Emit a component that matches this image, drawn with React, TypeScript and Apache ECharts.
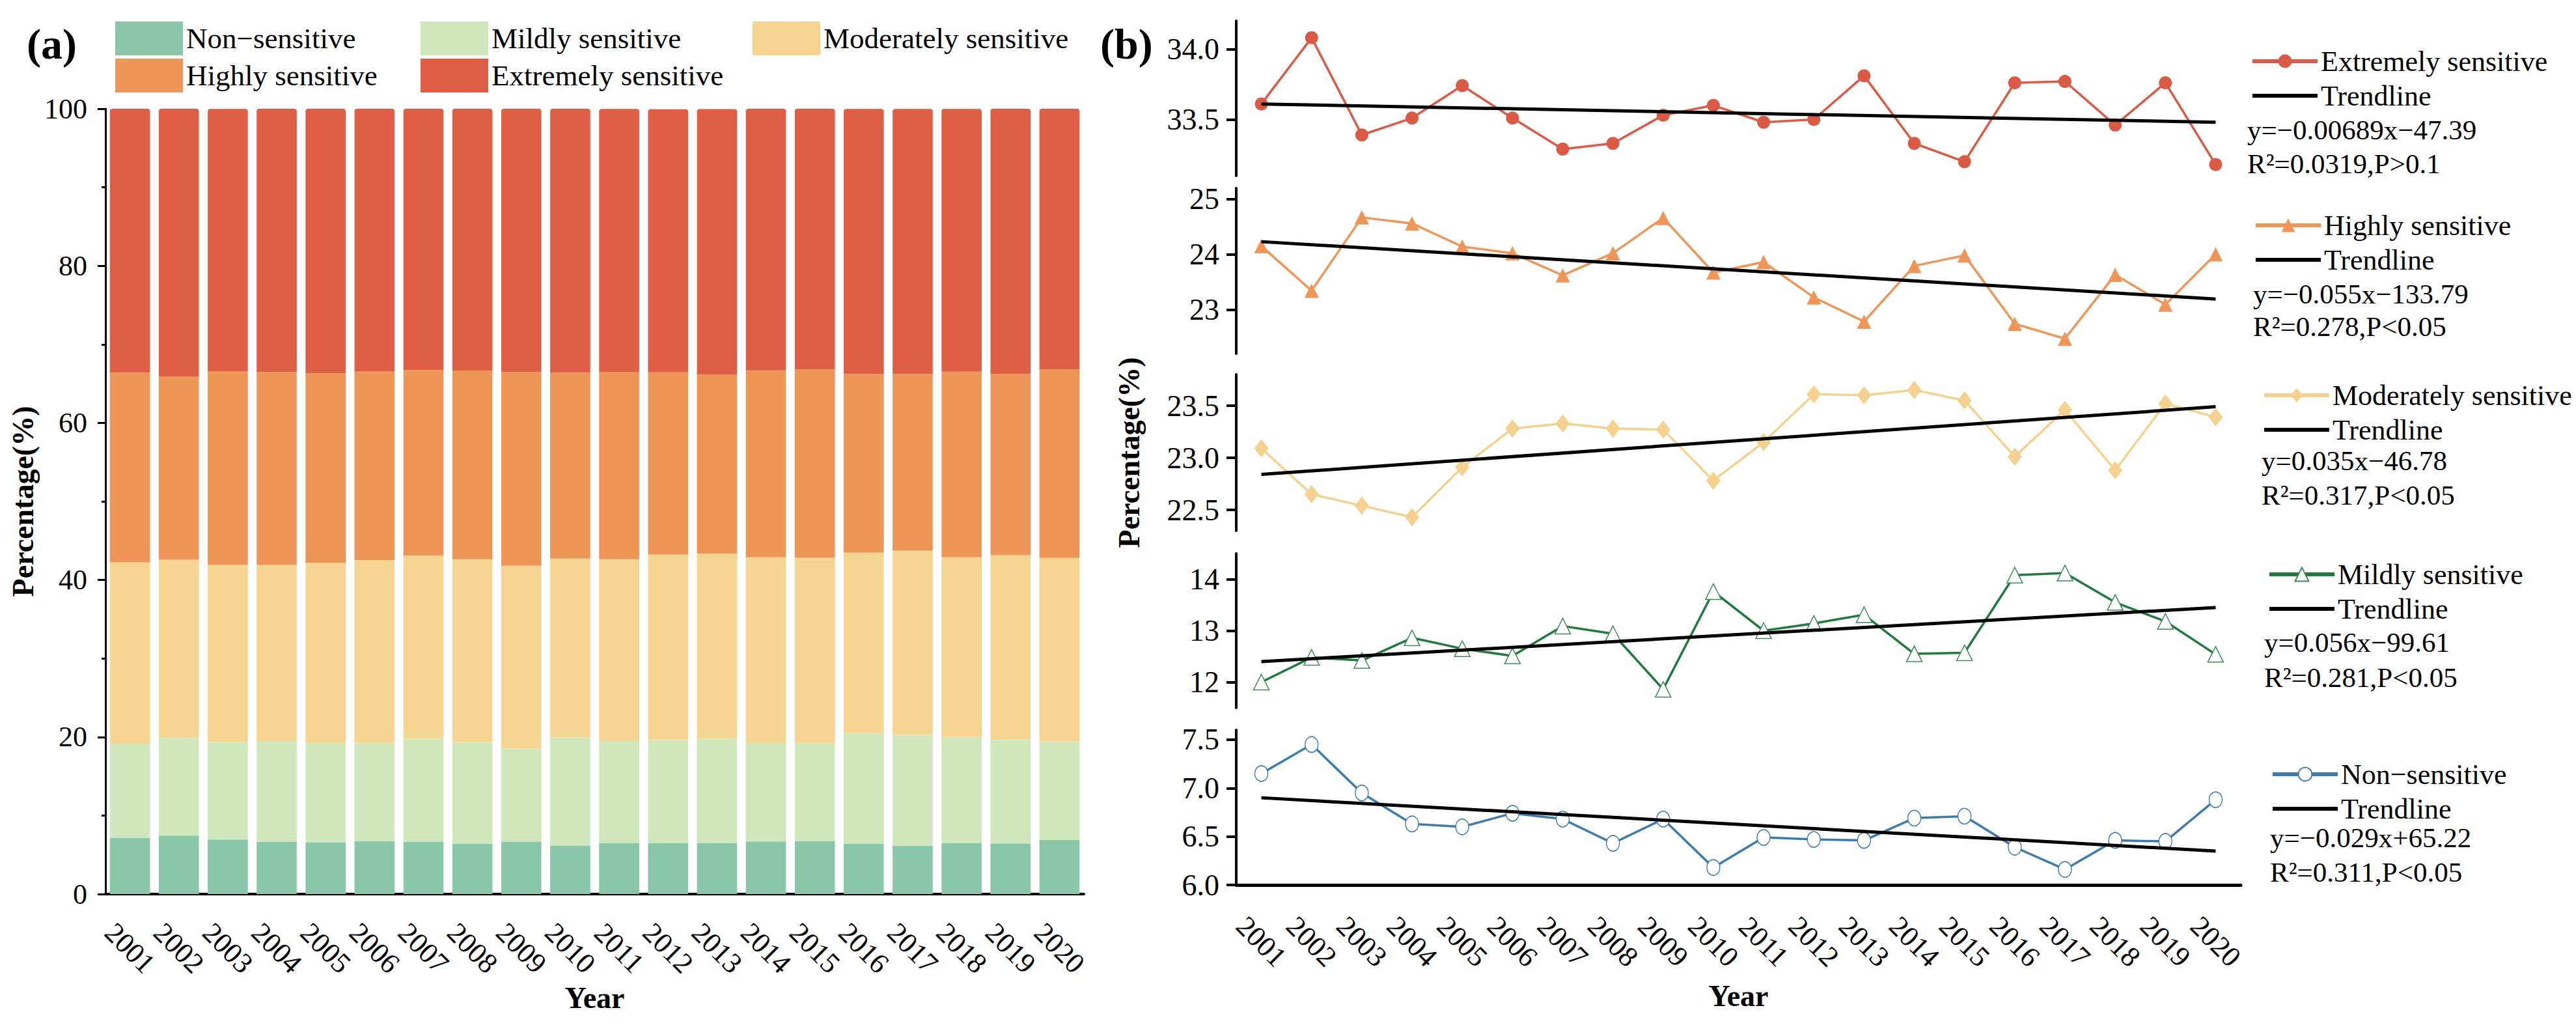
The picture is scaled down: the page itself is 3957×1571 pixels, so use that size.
import React, { useEffect, useRef } from 'react';
import * as echarts from 'echarts';

// ---------------- data ----------------
const years = ['2001', '2002', '2003', '2004', '2005', '2006', '2007', '2008', '2009', '2010',
  '2011', '2012', '2013', '2014', '2015', '2016', '2017', '2018', '2019', '2020'];

const nonSensitive = [7.15, 7.45, 6.95, 6.63, 6.60, 6.74, 6.68, 6.43, 6.68, 6.18, 6.49, 6.47, 6.46, 6.69, 6.71, 6.39, 6.16, 6.46, 6.45, 6.88];
const mildlySensitive = [12.00, 12.48, 12.42, 12.86, 12.65, 12.51, 13.09, 12.94, 11.86, 13.76, 13.00, 13.14, 13.31, 12.55, 12.57, 14.08, 14.12, 13.55, 13.18, 12.54];
const moderatelySensitive = [23.09, 22.65, 22.54, 22.43, 22.91, 23.28, 23.33, 23.28, 23.27, 22.78, 23.15, 23.61, 23.60, 23.65, 23.55, 23.01, 23.46, 22.88, 23.52, 23.39];
const highlySensitive = [24.15, 23.34, 24.67, 24.56, 24.14, 24.02, 23.62, 24.02, 24.66, 23.67, 23.86, 23.22, 22.78, 23.79, 23.98, 22.74, 22.47, 23.63, 23.09, 24.00];
const extremelySensitive = [33.61, 34.08, 33.39, 33.51, 33.74, 33.51, 33.29, 33.33, 33.53, 33.60, 33.48, 33.50, 33.81, 33.33, 33.20, 33.76, 33.77, 33.46, 33.76, 33.18];

// trendline values at 2001 and 2020
const trendExtremely = [33.61, 33.48];
const trendHighly = [24.23, 23.19];
const trendModerately = [22.84, 23.49];
const trendMildly = [12.40, 13.45];
const trendNon = [6.90, 6.35];

const classNames = ['Non\u2212sensitive', 'Mildly sensitive', 'Moderately sensitive', 'Highly sensitive', 'Extremely sensitive'];

const equations = ['y=\u22120.00689x\u221247.39', 'y=\u22120.055x\u2212133.79', 'y=0.035x\u221246.78', 'y=0.056x\u221299.61', 'y=\u22120.029x+65.22'];
const r2Texts = ['R\u00b2=0.0319,P>0.1', 'R\u00b2=0.278,P<0.05', 'R\u00b2=0.317,P<0.05', 'R\u00b2=0.281,P<0.05', 'R\u00b2=0.311,P<0.05'];

// tick labels
const barTicks = [0, 20, 40, 60, 80, 100];
const ticksExtremely = [33.5, 34.0];
const ticksHighly = [23, 24, 25];
const ticksModerately = [22.5, 23.0, 23.5];
const ticksMildly = [12, 13, 14];
const ticksNon = [6.0, 6.5, 7.0, 7.5];

// ---------------- styles ----------------
const FONT = '"Liberation Serif", "Times New Roman", Times, serif';
const barColors = ['#8AC6AA', '#D0E6BB', '#F6D492', '#EE9558', '#DF5E46'];

export default function App() {
  const ref = useRef<HTMLDivElement>(null);

  useEffect(() => {
    document.body.style.margin = '0';
    if (!ref.current) return;
    const chart = echarts.init(ref.current, undefined, { renderer: 'svg' });

    const panels = [
      { name: classNames[4], data: extremelySensitive, trend: trendExtremely, ticks: ticksExtremely, dec: 1,
        min: 33.1, max: 34.2, top: 32, height: 238,
        color: '#DB5A46', symbol: 'circle', symbolSize: 20, fill: '#DB5A46', border: '#DB5A46', bw: 0,
        legendLeft: 3452, row1: 95, eqLeft: 3452, eqY: 199, r2Y: 251, eq: equations[0], r2: r2Texts[0] },
      { name: classNames[3], data: highlySensitive, trend: trendHighly, ticks: ticksHighly, dec: 0,
        min: 22.2, max: 25.2, top: 289, height: 254,
        color: '#EE9558', symbol: 'triangle', symbolSize: 22, fill: '#EE9558', border: '#EE9558', bw: 0,
        legendLeft: 3457, row1: 347, eqLeft: 3461, eqY: 451, r2Y: 501, eq: equations[1], r2: r2Texts[1] },
      { name: classNames[2], data: moderatelySensitive, trend: trendModerately, ticks: ticksModerately, dec: 1,
        min: 22.3, max: 23.8, top: 575, height: 240,
        color: '#F5D18F', symbol: 'diamond', symbolSize: [22, 28], fill: '#F5D18F', border: '#F5D18F', bw: 0,
        legendLeft: 3470, row1: 608, eqLeft: 3474, eqY: 707, r2Y: 760, eq: equations[2], r2: r2Texts[2] },
      { name: classNames[1], data: mildlySensitive, trend: trendMildly, ticks: ticksMildly, dec: 0,
        min: 11.5, max: 14.5, top: 850, height: 237,
        color: '#1F7A3C', symbol: 'triangle', symbolSize: 24, fill: '#FFFFFF', border: '#3E8A5A', bw: 1.5,
        legendLeft: 3478, row1: 883, eqLeft: 3478, eqY: 986, r2Y: 1040, eq: equations[3], r2: r2Texts[3] },
      { name: classNames[0], data: nonSensitive, trend: trendNon, ticks: ticksNon, dec: 1,
        min: 6.0, max: 7.6, top: 1121, height: 238,
        color: '#3C7BB0', symbol: 'circle', symbolSize: [20, 24], fill: '#FFFFFF', border: '#3C7BB0', bw: 1.5,
        legendLeft: 3483, row1: 1190, eqLeft: 3487, eqY: 1286, r2Y: 1339, eq: equations[4], r2: r2Texts[4] },
    ];

    const labelStyle = { fontFamily: FONT, color: '#000' };

    const grids: any[] = [{ left: 162, top: 167, width: 1503, height: 1206 }];
    const xAxes: any[] = [{
      type: 'category', gridIndex: 0, data: years,
      axisLine: { lineStyle: { color: '#000', width: 4 } },
      axisTick: { alignWithLabel: true, length: 14, lineStyle: { color: '#000', width: 2.5 } },
      axisLabel: { ...labelStyle, fontSize: 44, interval: 0, rotate: -45, align: 'center', verticalAlign: 'middle', margin: 83 },
      name: 'Year', nameLocation: 'middle', nameGap: 135,
      nameTextStyle: { ...labelStyle, fontSize: 46, fontWeight: 'bold' },
    }];
    const yAxes: any[] = [{
      type: 'value', gridIndex: 0, min: 0, max: 100, interval: 20,
      axisLine: { show: true, lineStyle: { color: '#000', width: 3 } },
      axisTick: { show: true, length: 12, lineStyle: { color: '#000', width: 3 }, customValues: barTicks },
      minorTick: { show: true, splitNumber: 2, length: 6, lineStyle: { color: '#000', width: 3 } },
      splitLine: { show: false },
      axisLabel: { ...labelStyle, fontSize: 44, margin: 28 },
      name: 'Percentage(%)', nameLocation: 'middle', nameGap: 104,
      nameTextStyle: { ...labelStyle, fontSize: 46, fontWeight: 'bold' },
    }];

    const lineSeries: any[] = [];
    const trendSeries: any[] = [];
    const legends: any[] = [];
    const graphics: any[] = [];

    panels.forEach((p, i) => {
      const gi = i + 1;
      grids.push({ left: 1899, width: 1543, top: p.top, height: p.height });
      const isBottom = i === panels.length - 1;
      xAxes.push(isBottom ? {
        type: 'category', gridIndex: gi, data: years,
        axisLine: { lineStyle: { color: '#000', width: 5 } },
        axisTick: { alignWithLabel: true, length: 14, lineStyle: { color: '#000', width: 3 } },
        axisLabel: { ...labelStyle, fontSize: 44, interval: 0, rotate: -45, align: 'center', verticalAlign: 'middle', margin: 87 },
        name: 'Year', nameLocation: 'middle', nameGap: 147,
        nameTextStyle: { ...labelStyle, fontSize: 46, fontWeight: 'bold' },
      } : { type: 'category', gridIndex: gi, data: years, show: false });
      yAxes.push({
        type: 'value', gridIndex: gi, min: p.min, max: p.max,
        axisLine: { show: true, lineStyle: { color: '#000', width: 4 } },
        axisTick: { show: true, length: 15, lineStyle: { color: '#000', width: 4 }, customValues: p.ticks },
        axisLabel: { ...labelStyle, fontSize: 46, margin: 26, customValues: p.ticks,
          formatter: (v: number) => v.toFixed(p.dec) },
        splitLine: { show: false },
        ...(i === 2 ? {
          name: 'Percentage(%)', nameLocation: 'middle', nameGap: 142,
          nameTextStyle: { ...labelStyle, fontSize: 46, fontWeight: 'bold' },
        } : {}),
      });
      lineSeries.push({
        type: 'line', name: p.name, xAxisIndex: gi, yAxisIndex: gi, data: p.data,
        symbol: p.symbol, symbolSize: p.symbolSize, showAllSymbol: true,
        lineStyle: { color: p.color, width: 3.5 },
        itemStyle: { color: p.fill, borderColor: p.border, borderWidth: p.bw },
        z: 3,
      });
      trendSeries.push({
        type: 'line', name: 'Trendline', xAxisIndex: gi, yAxisIndex: gi,
        data: [[0, p.trend[0]], [years.length - 1, p.trend[1]]],
        symbol: 'none', lineStyle: { color: '#000', width: 5 }, z: 4,
      });
      legends.push({
        orient: 'vertical', left: p.legendLeft, top: p.row1 - 28,
        itemWidth: 100, itemHeight: 26, itemGap: 9, selectedMode: false,
        lineStyle: { width: 6 },
        textStyle: { ...labelStyle, fontSize: 44, lineHeight: 44 },
        data: [
          { name: p.name },
          { name: 'Trendline', itemStyle: { color: 'rgba(0,0,0,0)', borderColor: 'rgba(0,0,0,0)', borderWidth: 0 } },
        ],
      });
      [[p.eq, p.eqY], [p.r2, p.r2Y]].forEach(([t, y]) => {
        graphics.push({
          type: 'text', x: p.eqLeft, y: y as number,
          style: { text: t as string, font: `43px ${FONT}`, fill: '#000',
            align: 'left', verticalAlign: 'middle', textAlign: 'left', textVerticalAlign: 'middle' },
        });
      });
    });

    const barData = [nonSensitive, mildlySensitive, moderatelySensitive, highlySensitive, extremelySensitive];
    const barSeries = barData.map((d, i) => ({
      type: 'bar', name: classNames[i], stack: 'total', xAxisIndex: 0, yAxisIndex: 0,
      data: d, barCategoryGap: '18%',
      itemStyle: { color: barColors[i], borderRadius: i === 4 ? [4, 4, 0, 0] : 0 },
    }));

    const rectItem = (i: number) => ({ name: classNames[i], icon: 'rect',
      itemStyle: { color: barColors[i], borderWidth: 0, borderColor: 'rgba(0,0,0,0)' } });
    const leftLegendBase = {
      orient: 'vertical', top: 28, itemWidth: 104, itemHeight: 52, itemGap: 5, icon: 'rect',
      selectedMode: false, textStyle: { ...labelStyle, fontSize: 45 },
    };
    legends.push({ ...leftLegendBase, left: 172, data: [rectItem(0), rectItem(3)] });
    legends.push({ ...leftLegendBase, left: 641, data: [rectItem(1), rectItem(4)] });
    legends.push({ ...leftLegendBase, left: 1151, data: [rectItem(2)] });

    graphics.push({ type: 'text', x: 41, y: 67,
      style: { text: '(a)', font: `bold 66px ${FONT}`, fill: '#000', align: 'left', verticalAlign: 'middle',
        textAlign: 'left', textVerticalAlign: 'middle' } });
    graphics.push({ type: 'text', x: 1690, y: 67,
      style: { text: '(b)', font: `bold 66px ${FONT}`, fill: '#000', align: 'left', verticalAlign: 'middle',
        textAlign: 'left', textVerticalAlign: 'middle' } });

    chart.setOption({
      animation: false,
      backgroundColor: '#fff',
      textStyle: { fontFamily: FONT },
      grid: grids,
      xAxis: xAxes,
      yAxis: yAxes,
      legend: legends,
      graphic: graphics,
      series: [...lineSeries, ...trendSeries, ...barSeries],
    });

    return () => chart.dispose();
  }, []);

  return <div ref={ref} style={{ width: 3957, height: 1571 }} />;
}
